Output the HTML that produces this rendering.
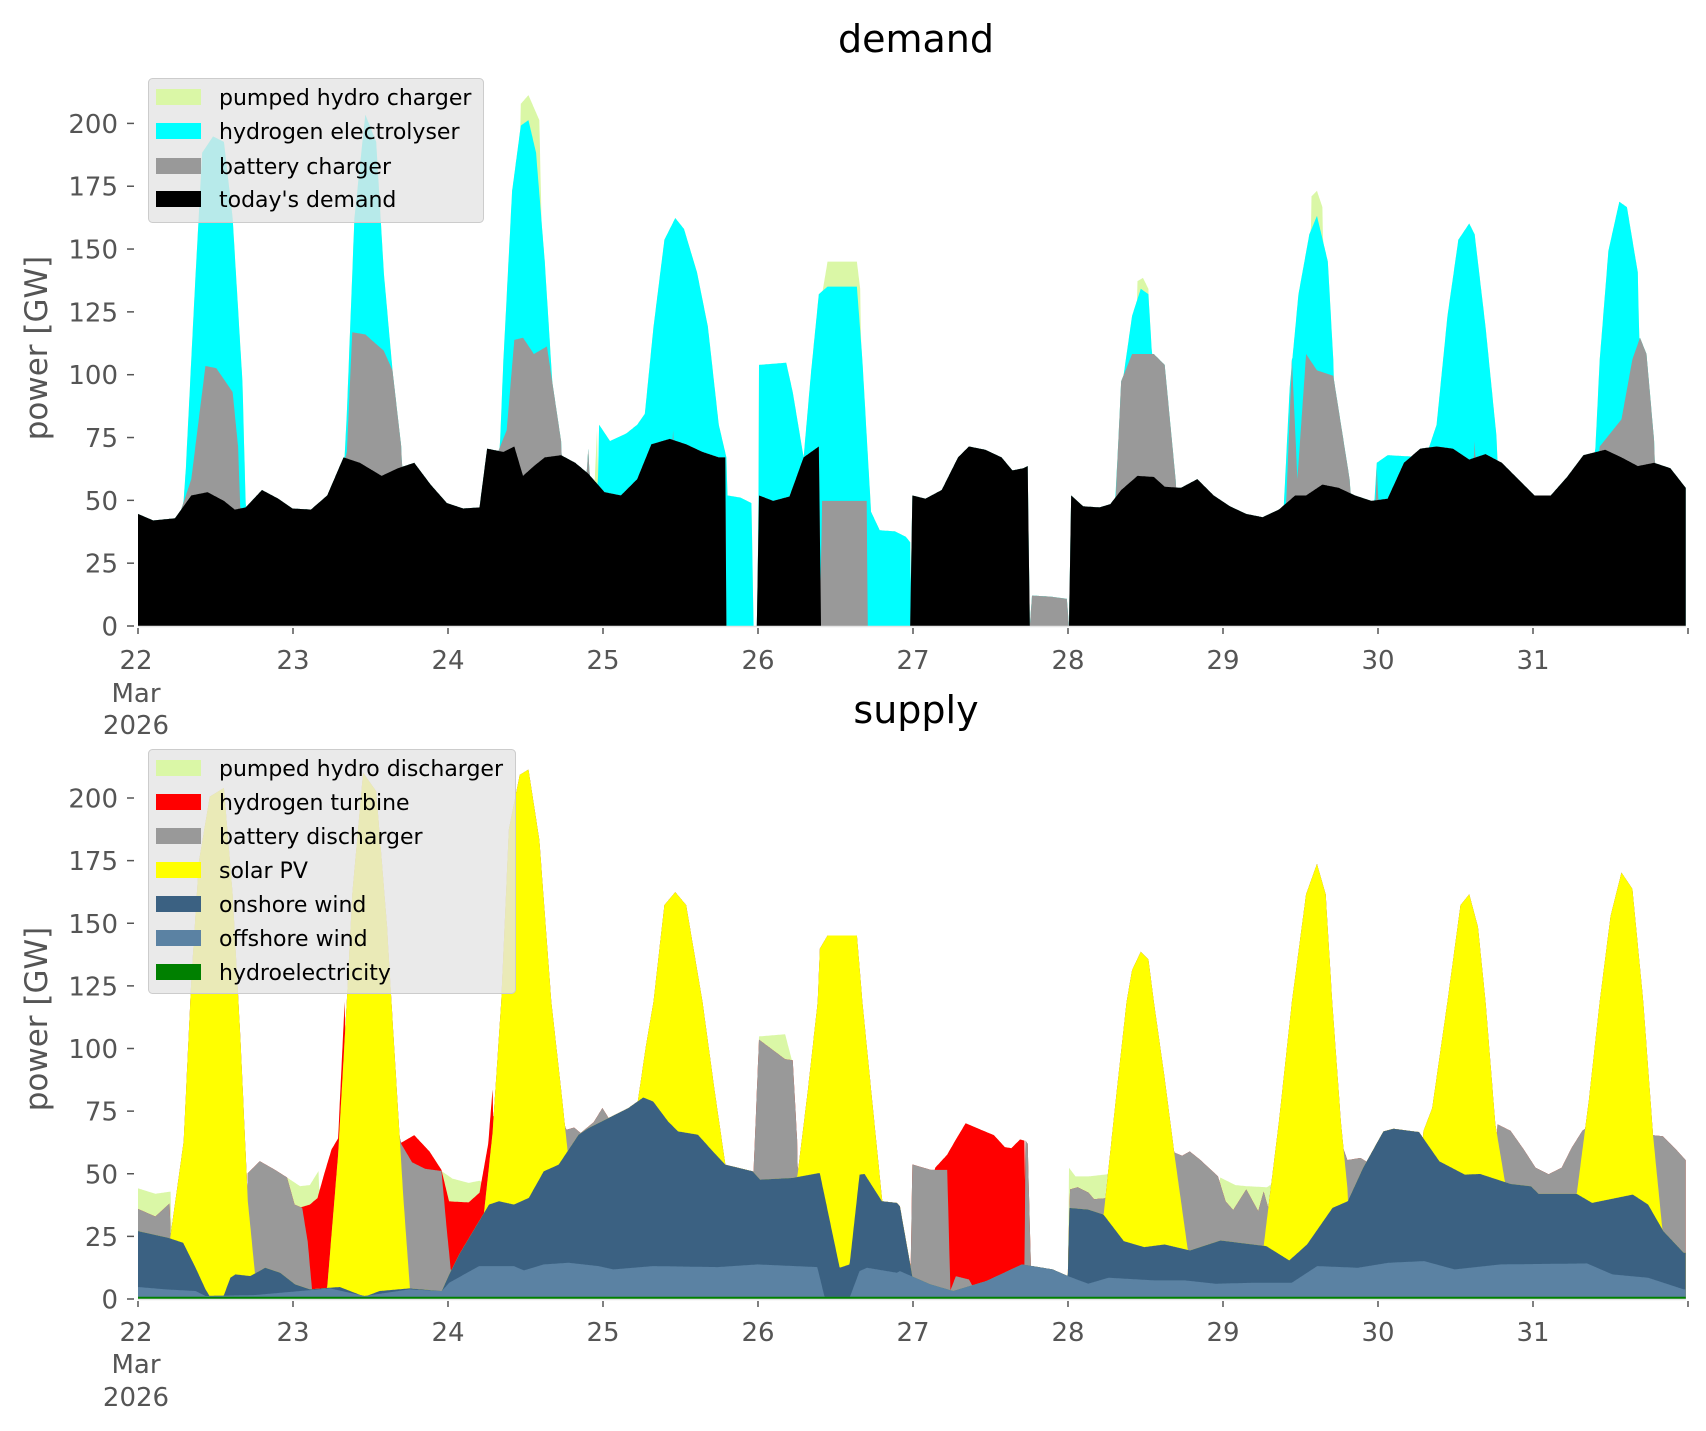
<!DOCTYPE html>
<html><head><meta charset="utf-8"><style>
html,body{margin:0;padding:0;background:#fff;}
svg{display:block;font-family:"DejaVu Sans","Liberation Sans",sans-serif;}
</style></head><body>
<svg id="s" width="1706" height="1431" viewBox="0 0 1706 1431" xmlns="http://www.w3.org/2000/svg">
<rect width="1706" height="1431" fill="#fff"/>
<g id="plots"></g>
<g id="axes" fill="#555" font-size="26"></g>
<text x="916" y="52" font-size="38" text-anchor="middle" fill="#000">demand</text>
<text x="916" y="723" font-size="38" text-anchor="middle" fill="#000">supply</text>
<text transform="translate(47,348) rotate(-90)" font-size="31" text-anchor="middle" fill="#555">power [GW]</text>
<text transform="translate(47,1019) rotate(-90)" font-size="31" text-anchor="middle" fill="#555">power [GW]</text>
<g font-size="22" fill="#000">
<rect x="148.5" y="78.5" width="335" height="144" rx="4" fill="#e5e5e5" fill-opacity="0.8" stroke="#cccccc"/>
<rect x="156" y="89" width="45" height="16" fill="#daf7a6"/><text x="219" y="105">pumped hydro charger</text>
<rect x="156" y="123" width="45" height="16" fill="#00ffff"/><text x="219" y="139">hydrogen electrolyser</text>
<rect x="156" y="158" width="45" height="16" fill="#999999"/><text x="219" y="174">battery charger</text>
<rect x="156" y="191" width="45" height="16" fill="#000000"/><text x="219" y="207">today's demand</text>
<rect x="148.5" y="749.5" width="367" height="244" rx="4" fill="#e5e5e5" fill-opacity="0.8" stroke="#cccccc"/>
<rect x="156" y="760" width="45" height="16" fill="#daf7a6"/><text x="219" y="776">pumped hydro discharger</text>
<rect x="156" y="794" width="45" height="16" fill="#ff0000"/><text x="219" y="810">hydrogen turbine</text>
<rect x="156" y="828" width="45" height="16" fill="#999999"/><text x="219" y="844">battery discharger</text>
<rect x="156" y="862" width="45" height="16" fill="#ffff00"/><text x="219" y="878">solar PV</text>
<rect x="156" y="896" width="45" height="16" fill="#3b6182"/><text x="219" y="912">onshore wind</text>
<rect x="156" y="930" width="45" height="16" fill="#5b82a3"/><text x="219" y="946">offshore wind</text>
<rect x="156" y="964" width="45" height="16" fill="#008000"/><text x="219" y="980">hydroelectricity</text>
</g>
</svg>
<script>
(function(){
var NS="http://www.w3.org/2000/svg";
function X(x){return 138+(x-126)*1.0876;}
function YT(y){return 626-(575-y)*1.0879;}
function YB(y){return 1299-(1193-y)*1.085;}
function interp(p,x){
 if(x<=p[0][0])return p[0][1];
 for(var i=0;i<p.length-1;i++){
  if(x<=p[i+1][0]){var a=p[i],b=p[i+1];if(b[0]==a[0])return b[1];return a[1]+(b[1]-a[1])*(x-a[0])/(b[0]-a[0]);}
 }
 return p[p.length-1][1];
}
function build(layers,base,Y,g){
 var xs=[];for(var x=126;x<=1549.01;x+=0.5)xs.push(x);
 var lower=xs.map(function(){return base;});
 var tops=[];
 layers.forEach(function(L){
  var t=xs.map(function(x,i){
   var lo=lower[i];
   if(L.full){return Math.min(interp(L.full,x),lo);}
   for(var k=0;k<L.bumps.length;k++){var b=L.bumps[k];
    if(x>=b[0][0]&&x<=b[b.length-1][0]){return Math.min(interp(b,x),lo);}}
   return lo;
  });
  tops.push(t);lower=t;
 });
 for(var j=layers.length-1;j>=0;j--){
  var t=tops[j];var d="M"+X(126).toFixed(1)+","+Y(base).toFixed(1);
  for(var i=0;i<xs.length;i++)d+="L"+X(xs[i]).toFixed(1)+","+Y(t[i]).toFixed(1);
  d+="L"+X(1549).toFixed(1)+","+Y(base).toFixed(1)+"Z";
  var p=document.createElementNS(NS,"path");p.setAttribute("d",d);p.setAttribute("fill",layers[j].c);g.appendChild(p);
 }
}
var g=document.getElementById("plots");
var black=[[126,472],[140,478],[160,476],[175,455],[190,452],[205,460],[215,468],[225,466],[240,450],[255,458],[268,467],[285,468],[300,455],[315,420],[330,425],[350,437],[365,430],[380,425],[395,445],[410,462],[425,467],[440,466],[447,412],[462,415],[472,410],[480,437],[490,428],[500,420],[515,418],[528,425],[540,435],[555,452],[570,455],[585,440],[598,408],[615,403],[630,408],[645,415],[660,420],[666,420],[667,575],[695,575],[697,455],[710,460],[725,456],[738,420],[752,410],[754,575],[836,575],[838,455],[850,458],[865,450],[880,420],[890,410],[905,413],[920,420],[930,432],[940,430],[944,428],[946,575],[982,575],[984,455],[995,465],[1010,466],[1020,463],[1030,450],[1045,437],[1060,438],[1070,447],[1085,448],[1100,440],[1115,455],[1130,465],[1145,472],[1160,475],[1175,468],[1190,455],[1200,455],[1215,445],[1230,448],[1245,455],[1260,460],[1275,458],[1290,425],[1305,412],[1320,410],[1335,412],[1350,422],[1365,417],[1380,425],[1395,440],[1410,455],[1425,455],[1440,438],[1455,418],[1475,413],[1490,420],[1505,428],[1520,425],[1535,430],[1549,448]];
var grayD=[[[158,575],[165,470],[175,440],[188,336],[198,338],[213,360],[218,410],[224,575]],
[[308,575],[312,440],[318,415],[323,305],[335,307],[352,322],[360,340],[368,410],[375,575]],
[[450,575],[455,420],[465,395],[472,312],[480,310],[490,325],[502,318],[515,405],[522,575]],
[[530,575],[540,412],[548,575]],
[[610,575],[618,395],[626,575]],
[[753,575],[755,460],[796,460],[797,575]],
[[946,575],[948,547],[965,548],[980,550],[982,575]],
[[1020,575],[1025,455],[1030,350],[1040,325],[1060,325],[1070,335],[1080,440],[1085,575]],
[[1178,575],[1182,455],[1187,330],[1192,440],[1200,325],[1210,340],[1225,345],[1240,440],[1250,575]],
[[1260,575],[1265,430],[1272,575]],
[[1348,575],[1355,405],[1362,575]],
[[1465,575],[1470,410],[1490,385],[1500,330],[1507,310],[1513,325],[1520,405],[1525,575]]];
var cyan=[[[160,575],[170,430],[178,270],[185,140],[195,125],[205,130],[213,200],[222,350],[228,575]],
[[308,575],[318,380],[325,200],[335,105],[345,130],[352,250],[360,340],[366,575]],
[[452,575],[462,330],[470,175],[478,115],[485,110],[492,140],[500,240],[510,400],[516,575]],
[[546,575],[550,390],[560,405],[575,398],[585,390],[592,380],[600,300],[610,220],[620,200],[628,210],[640,250],[650,300],[660,390],[667,420],[668,455],[680,457],[690,462],[692,575]],
[[696,575],[697,335],[722,333],[728,360],[738,420],[745,340],[752,270],[760,263],[787,263],[792,330],[800,470],[808,487],[822,488],[832,493],[836,498],[837,575]],
[[1018,575],[1030,360],[1040,290],[1048,265],[1055,270],[1058,320],[1062,575]],
[[1174,575],[1185,355],[1193,270],[1203,215],[1210,198],[1220,240],[1225,330],[1230,575]],
[[1256,575],[1265,425],[1275,418],[1310,420],[1320,390],[1330,290],[1340,220],[1350,205],[1355,215],[1365,300],[1375,400],[1382,575]],
[[1458,575],[1470,330],[1478,230],[1488,185],[1495,190],[1505,250],[1512,575]]];
var pumpD=[[[180,575],[188,140],[200,135],[210,575]],[[470,575],[478,95],[485,87],[495,110],[505,575]],[[540,575],[548,395],[552,575]],[[752,575],[755,270],[760,240],[787,240],[790,265],[795,575]],[[1040,575],[1045,258],[1050,255],[1055,265],[1060,575]],[[1198,575],[1205,180],[1210,175],[1215,190],[1222,575]]];
build([{full:black,c:"#000000"},{bumps:grayD,c:"#999999"},{bumps:cyan,c:"#00ffff"},{bumps:pumpD,c:"#daf7a6"}],575,YT,g);

function z6(a){return a.map(function(p){return [119.5+p[0]*0.4573,919+p[1]*0.3065];});}
function z7(a){return a.map(function(p){return [826.5+p[0]*0.468,919+p[1]*0.3065];});}
var on=z6([[15,690],[75,710],[105,725],[130,800],[150,865],[160,890],[185,890],[200,830],[210,820],[240,825],[270,800],[300,815],[330,850],[360,865],[400,860],[420,858],[470,887],[500,870],[560,862],[625,870],[640,820],[660,760],[720,610],[740,600],[770,610],[800,590],[830,510],[860,490],[900,400],[920,380],[1000,320],[1030,288],[1050,300],[1080,360],[1100,390],[1140,400],[1170,450],[1195,490],[1250,510],[1265,535],[1330,530],[1385,515],[1425,800],[1445,790],[1465,520],[1475,518],[1510,600],[1540,605]]).concat(z7([[0,615],[25,830],[60,850],[105,870],[170,840],[240,790],[300,805],[330,825],[333,620],[370,625],[400,640],[440,720],[480,738],[520,730],[570,748],[630,718],[720,735],[765,778],[800,730],[850,620],[880,600],[910,500],[950,390],[970,382],[1020,392],[1060,480],[1110,520],[1140,518],[1200,548],[1240,555],[1255,578],[1330,578],[1360,605],[1440,580],[1470,610],[1500,690],[1540,755]]));
on.unshift([126,1130]);
var off=z6([[15,858],[70,865],[130,870],[150,885],[250,882],[400,862],[470,885],[560,865],[625,870],[640,845],[700,795],[770,795],[790,808],[830,790],[880,785],[940,795],[970,805],[1050,795],[1180,798],[1260,790],[1380,798],[1395,890],[1445,890],[1465,810],[1480,800],[1540,815]]).concat(z7([[0,810],[60,850],[105,870],[170,840],[240,790],[300,805],[330,825],[370,848],[410,830],[500,838],[560,838],[620,848],[700,845],[770,845],[820,795],[900,800],[960,785],[1030,780],[1090,805],[1180,790],[1350,787],[1400,820],[1470,830],[1540,865]]));
off.unshift([126,1182]);
var solar=[[[150,1193],[156,1134],[168,1048],[175,900],[182,790],[192,730],[205,722],[213,820],[220,950],[227,1103],[233,1164],[236,1193]],
[[298,1193],[300,1182],[310,1060],[318,919],[323,820],[333,708],[345,725],[355,850],[359,919],[370,1100],[376,1183],[378,1193]],
[[440,1193],[444,1115],[452,1040],[460,919],[467,760],[477,710],[485,705],[495,770],[506,919],[515,1000],[522,1066],[525,1193]],
[[580,1193],[586,1008],[593,960],[600,919],[610,830],[620,818],[630,830],[645,919],[656,1000],[666,1069],[670,1193]],
[[728,1193],[732,1082],[742,1000],[751,919],[753,870],[760,858],[787,858],[792,919],[800,1000],[810,1100],[815,1193]],
[[1008,1193],[1014,1114],[1025,1010],[1035,919],[1040,890],[1048,873],[1055,880],[1060,919],[1070,990],[1079,1060],[1091,1146],[1095,1193]],
[[1155,1193],[1161,1144],[1175,1030],[1187,919],[1200,820],[1210,792],[1218,820],[1224,919],[1232,1030],[1238,1091],[1242,1193]],
[[1303,1193],[1308,1038],[1316,1017],[1330,919],[1342,830],[1350,820],[1358,850],[1365,919],[1374,1032],[1383,1086],[1388,1193]],
[[1445,1193],[1449,1095],[1460,1010],[1470,919],[1480,840],[1490,800],[1500,815],[1510,919],[1519,1042],[1528,1133],[1535,1193]]];
var grayS=[[[126,1110],[142,1117],[155,1105],[158,1193]],
[[224,1193],[227,1077],[238,1066],[252,1074],[263,1081],[270,1106],[277,1109],[282,1140],[286,1184],[288,1193]],
[[358,1193],[362,1023],[368,1050],[378,1067],[390,1073],[405,1075],[410,1130],[413,1160],[416,1193]],
[[510,1193],[512,1020],[520,1037],[527,1035],[533,1040],[545,1030],[553,1017],[558,1025],[562,1193]],
[[650,1193],[654,1020],[660,1050],[668,1075],[672,1193]],
[[690,1193],[692,1075],[697,954],[721,972],[728,973],[732,1046],[735,1193]],
[[836,1193],[838,1069],[855,1074],[870,1074],[873,1185],[878,1172],[890,1175],[900,1193]],
[[941,1193],[942,1047],[944,1050],[947,1164],[948,1193]],
[[981,1193],[983,1092],[990,1090],[1000,1095],[1005,1101],[1018,1100],[1022,1193]],
[[1077,1193],[1079,1058],[1086,1061],[1093,1057],[1103,1065],[1119,1080],[1126,1103],[1133,1111],[1145,1092],[1156,1112],[1161,1094],[1166,1112],[1173,1100],[1178,1193]],
[[1228,1193],[1231,1045],[1238,1065],[1250,1063],[1255,1066],[1258,1193]],
[[1373,1193],[1376,1032],[1388,1038],[1400,1055],[1411,1072],[1423,1078],[1435,1072],[1444,1054],[1454,1038],[1458,1035],[1462,1193]],
[[1515,1193],[1518,1042],[1528,1043],[1540,1055],[1549,1065]]];
var red=[[[272,1193],[274,1109],[284,1106],[291,1100],[298,1075],[304,1055],[310,1045],[316,919],[317,1193]],
[[366,1193],[368,1049],[380,1042],[394,1057],[405,1074],[412,1103],[430,1104],[440,1095],[448,1050],[452,1000],[456,1193]],
[[855,1193],[859,1072],[870,1060],[878,1046],[887,1031],[901,1037],[913,1042],[923,1053],[929,1054],[937,1046],[941,1047],[943,1193]]];
var pumpS=[[[126,1091],[142,1096],[156,1094],[158,1193]],
[[262,1193],[263,1081],[275,1089],[284,1088],[292,1075],[296,1193]],
[[404,1193],[405,1075],[415,1082],[430,1086],[440,1084],[446,1088],[448,1193]],
[[695,1193],[697,951],[721,949],[727,972],[730,1193]],
[[981,1193],[982,1072],[988,1080],[1000,1080],[1018,1078],[1022,1193]],
[[1118,1193],[1121,1081],[1135,1088],[1145,1089],[1164,1090],[1173,1084],[1178,1193]]];
build([{full:[[126,1191],[1549,1191]],c:"#008000"},{full:off,c:"#5b82a3"},{full:on,c:"#3b6182"},{bumps:solar,c:"#ffff00"},{bumps:grayS,c:"#999999"},{bumps:red,c:"#ff0000"},{bumps:pumpS,c:"#daf7a6"}],1193,YB,g);

var ax=document.getElementById("axes");var h="";
[[626,2.513,669,702,734],[1299,2.505,1341,1373,1406]].forEach(function(P){
 var y0=P[0];
 h+='<line x1="138" y1="'+(y0+0.5)+'" x2="1686" y2="'+(y0+0.5)+'" stroke="#e6e6e6" stroke-width="1.5"/>';
 for(var v=0;v<=200;v+=25){var y=y0-v*P[1];
  h+='<line x1="127" y1="'+y+'" x2="134" y2="'+y+'" stroke="#555" stroke-width="1.5"/>';
  h+='<text x="118" y="'+(y+9.5)+'" text-anchor="end">'+v+'</text>';}
 for(var d=0;d<=10;d++){var x=138+155.0*d;
  h+='<line x1="'+x+'" y1="'+(y0+2)+'" x2="'+x+'" y2="'+(y0+8)+'" stroke="#555" stroke-width="1.5"/>';
  if(d<10)h+='<text x="'+(d==0?136:x)+'" y="'+P[2]+'" text-anchor="middle">'+(22+d)+'</text>';}
 h+='<text x="136" y="'+P[3]+'" text-anchor="middle">Mar</text><text x="136" y="'+P[4]+'" text-anchor="middle">2026</text>';
});
ax.innerHTML=h;
})();
</script>
</body></html>
